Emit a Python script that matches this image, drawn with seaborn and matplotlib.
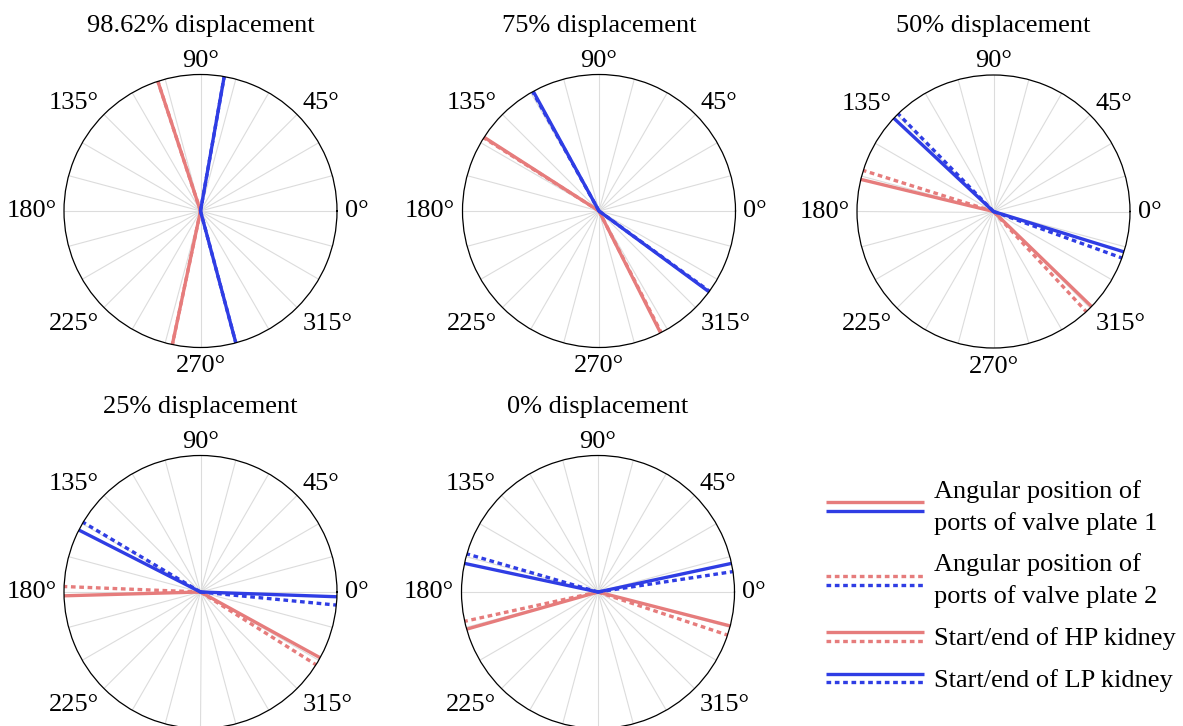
import matplotlib
matplotlib.use('Agg')
import numpy as np
import pandas as pd
import matplotlib.pyplot as plt
import seaborn as sns
from matplotlib.lines import Line2D
from matplotlib.legend_handler import HandlerBase

# ---------------------------
# Data (angles in degrees)
# ---------------------------
titles = ["98.62% displacement", "75% displacement", "50% displacement",
          "25% displacement", "0% displacement"]

# valve plate 1 (solid)
hp_start_1 = [108.2, 147.3, 166.4, 181.6, 195.8]
hp_end_1 = [258.1, 296.8, 315.9, 331.2, 345.6]
lp_start_1 = [285.0, 323.7, 342.8, 358.0, 12.1]
lp_end_1 = [80.0, 118.8, 136.9, 153.0, 167.9]

# valve plate 2 (dotted)
hp_start_2 = [108.2, 147.6, 162.5, 177.7, 192.4]
hp_end_2 = [258.1, 297.1, 312.8, 327.8, 341.6]
lp_start_2 = [285.0, 324.0, 340.1, 354.5, 8.6]
lp_end_2 = [80.0, 119.1, 134.3, 149.3, 163.8]

grid_deg = list(range(0, 360, 15))
label_deg = list(range(0, 360, 45))

legend_labels = ["Angular position of\nports of valve plate 1",
                 "Angular position of\nports of valve plate 2",
                 "Start/end of HP kidney",
                 "Start/end of LP kidney"]

RED = "#e67c7c"
BLUE = "#2f3de4"
DOT = (1.4, 1.1)

# ---------------------------
# Style
# ---------------------------
sns.set_theme(style="white")
plt.rcParams['font.family'] = ['Liberation Serif', 'DejaVu Serif']
plt.rcParams['text.color'] = 'black'
plt.rcParams['xtick.color'] = 'black'

fig = plt.figure(figsize=(11.83, 7.26), dpi=100)
W, H = 1183, 726
R = 136.5
centers = [(200.5, 211), (599, 211), (993.5, 211.5), (200.5, 592), (598, 592)]


def edges_df(i):
    rows = []
    sets = [("HP", "1", hp_start_1[i]), ("HP", "1", hp_end_1[i]),
            ("LP", "1", lp_start_1[i]), ("LP", "1", lp_end_1[i]),
            ("HP", "2", hp_start_2[i]), ("HP", "2", hp_end_2[i]),
            ("LP", "2", lp_start_2[i]), ("LP", "2", lp_end_2[i])]
    for k, (kid, plate, deg) in enumerate(sets):
        th = np.deg2rad(deg)
        rows.append(dict(edge=k, kidney=kid, plate=plate, theta=th, r=0.0))
        rows.append(dict(edge=k, kidney=kid, plate=plate, theta=th, r=1.0))
    return pd.DataFrame(rows)


for i, (cx, cy) in enumerate(centers):
    rect = [(cx - R) / W, (H - cy - R) / H, 2 * R / W, 2 * R / H]
    ax = fig.add_axes(rect, projection='polar')
    df = edges_df(i)
    sns.lineplot(data=df, x="theta", y="r", hue="kidney", style="plate",
                 units="edge", estimator=None, sort=False,
                 palette={"HP": RED, "LP": BLUE},
                 dashes={"1": "", "2": DOT},
                 linewidth=2.4, legend=False, ax=ax)
    ax.set_ylim(0, 1)
    ax.set_yticks([])
    ax.set_xticks(np.deg2rad(grid_deg))
    ax.set_xticklabels([])
    ax.tick_params(axis='x', length=0)
    ax.xaxis.grid(True, color="#dcdcdc", linewidth=0.8)
    ax.spines['polar'].set_color('black')
    ax.spines['polar'].set_linewidth(0.9)
    ax.set_xlabel("")
    ax.set_ylabel("")
    ax.set_title(titles[i], fontsize=19, y=1.157, pad=0)

    # angular labels anchored outside the circle
    for d in label_deg:
        if i >= 3 and d == 270:
            continue  # falls outside the figure
        c, s = np.cos(np.deg2rad(d)), np.sin(np.deg2rad(d))
        ha = 'left' if c > 0.01 else ('right' if c < -0.01 else 'center')
        va = 'baseline' if s > 0.01 else ('top' if s < -0.01 else 'center')
        pad = 5.5
        ax.annotate(f"{d}°", xy=(np.deg2rad(d), 1.0),
                    xytext=(pad * c, pad * s), textcoords='offset points',
                    ha=ha, va=va, fontsize=19, annotation_clip=False)


# ---------------------------
# Legend with stacked line pairs
# ---------------------------
class Pair:
    def __init__(self, top, bottom):
        self.top = top
        self.bottom = bottom


class PairHandler(HandlerBase):
    def create_artists(self, legend, orig_handle, xdescent, ydescent,
                       width, height, fontsize, trans):
        yc = height / 2 - ydescent
        arts = []
        for (col, ls), dy in [(orig_handle.top, 3.2), (orig_handle.bottom, -3.2)]:
            ln = Line2D([-xdescent, width - xdescent], [yc + dy, yc + dy],
                        color=col, linewidth=2.4, solid_capstyle='butt',
                        dash_capstyle='butt')
            if ls == "dot":
                ln.set_dashes(DOT)
            ln.set_transform(trans)
            arts.append(ln)
        return arts


handles = [Pair((RED, "solid"), (BLUE, "solid")),
           Pair((RED, "dot"), (BLUE, "dot")),
           Pair((RED, "solid"), (RED, "dot")),
           Pair((BLUE, "solid"), (BLUE, "dot"))]

leg = fig.legend(handles, legend_labels, handler_map={Pair: PairHandler()},
                 loc="upper left", bbox_to_anchor=(826 / W, (H - 480) / H),
                 frameon=False, fontsize=19, handlelength=3.7,
                 handletextpad=0.4, labelspacing=0.7, borderpad=0,
                 borderaxespad=0)
for t in leg.get_texts():
    t.set_linespacing(1.5)

fig.savefig("out.png", dpi=100)
plt.close(fig)
